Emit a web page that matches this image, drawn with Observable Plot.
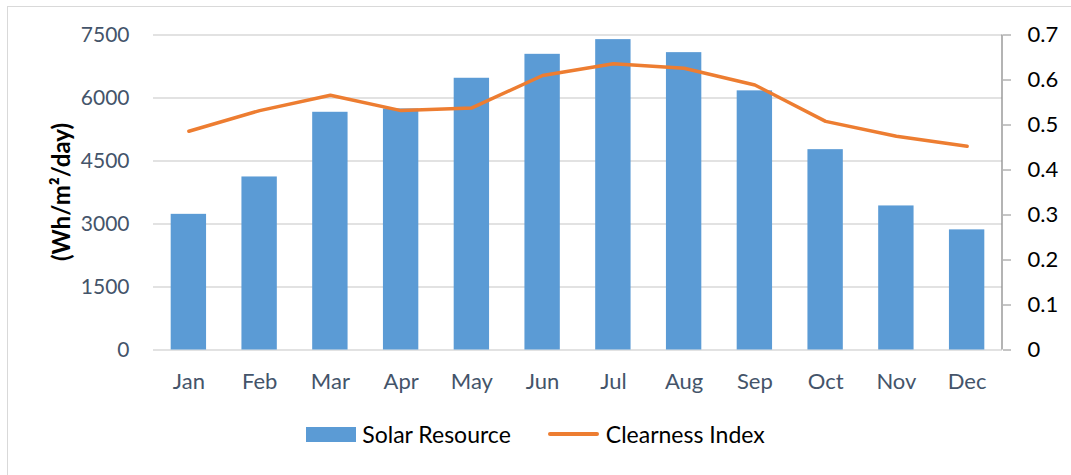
<!DOCTYPE html>
<html>
<head>
<meta charset="utf-8">
<script src="https://cdn.jsdelivr.net/npm/d3@7"></script>
<script src="https://cdn.jsdelivr.net/npm/@observablehq/plot@0.6"></script>
<style>
  html, body { margin: 0; padding: 0; background: #fff; overflow: hidden; }
  #wrap { position: relative; width: 1071px; height: 475px; overflow: hidden; }
  #border { position: absolute; left: 7px; top: 6px; width: 1090px; height: 470px; border: 1px solid #d9d9d9; box-sizing: border-box; }
  #chart { position: absolute; left: 0; top: 0; }
  #legend { position: absolute; left: 0; top: 420px; width: 1071px; display: flex; justify-content: center; align-items: center;
            font-family: Lato, "Open Sans", sans-serif; font-size: 23px; color: #000; }
  .item { display: flex; align-items: center; }
  .sw-bar { width: 50px; height: 15px; background: #5b9bd5; margin-right: 6px; }
  .sw-line { width: 51px; height: 3.5px; background: #ed7d31; border-radius: 2px; margin-right: 7px; }
</style>
</head>
<body>
<div id="wrap">
  <div id="border"></div>
  <div id="chart"></div>
  <div id="legend">
    <div class="item"><div class="sw-bar"></div><span>Solar Resource</span></div>
    <div class="item" style="margin-left:37px"><div class="sw-line"></div><span>Clearness Index</span></div>
  </div>
</div>
<script>
const months = ["Jan","Feb","Mar","Apr","May","Jun","Jul","Aug","Sep","Oct","Nov","Dec"];
const solarResource = [3230, 4120, 5660, 5740, 6470, 7040, 7390, 7080, 6170, 4770, 3430, 2860];
const clearnessIndex = [0.486, 0.532, 0.566, 0.532, 0.538, 0.610, 0.636, 0.626, 0.589, 0.508, 0.475, 0.453];
const leftTicks = [0, 1500, 3000, 4500, 6000, 7500];
const rightTicks = [0, 0.1, 0.2, 0.3, 0.4, 0.5, 0.6, 0.7];
const leftMax = 7500, rightMax = 0.7;
const toLeft = v => v * leftMax / rightMax;

const data = months.map((m, i) => ({month: m, solar: solarResource[i], ci: clearnessIndex[i]}));

const plot = Plot.plot({
  width: 1071,
  height: 400,
  marginTop: 34.5,
  marginBottom: 50.5,
  marginLeft: 153,
  marginRight: 69,
  style: {fontFamily: "Lato, 'Open Sans', sans-serif", fontSize: "22px", background: "transparent", overflow: "visible"},
  x: {domain: months, paddingInner: 0.5, paddingOuter: 0.25, round: false},
  y: {domain: [0, leftMax]},
  marks: [
    Plot.gridY(leftTicks, {stroke: "#d9d9d9", strokeOpacity: 1, strokeWidth: 1.3}),
    Plot.barY(data, {x: "month", y: "solar", fill: "#5b9bd5"}),
    Plot.lineY(data, {x: "month", y: d => toLeft(d.ci), stroke: "#ed7d31", strokeWidth: 3.5, strokeLinejoin: "round", strokeLinecap: "round"}),
    Plot.axisY(leftTicks, {anchor: "left", tickSize: 0, tickPadding: 24, fill: "#44546a", fontSize: 21, label: null, tickFormat: d => String(d)}),
    Plot.axisY(rightTicks.map(toLeft), {
      anchor: "right", tickSize: 8, tickPadding: 17, stroke: "#8c8c8c", fill: "#000", label: null,
      tickFormat: d => { const v = Math.round(d * rightMax / leftMax * 10) / 10; return v === 0 ? "0" : String(v); }
    }),
    Plot.axisX({tickSize: 0, tickPadding: 23, fill: "#44546a", label: null})
  ]
});

document.getElementById("chart").appendChild(plot);

const svg = d3.select(plot);
const xr = plot.scale("x").range;
const yr = plot.scale("y").range;
svg.append("line")
  .attr("x1", xr[1]).attr("x2", xr[1])
  .attr("y1", yr[0]).attr("y2", yr[1])
  .attr("stroke", "#8c8c8c").attr("stroke-width", 1.3);
svg.append("text")
  .attr("transform", `translate(60,${(yr[0] + yr[1]) / 2}) rotate(-90)`)
  .attr("text-anchor", "middle")
  .attr("dominant-baseline", "central")
  .attr("font-weight", "bold")
  .attr("font-size", 24)
  .attr("fill", "#000")
  .text("(Wh/m²/day)");
</script>
</body>
</html>
